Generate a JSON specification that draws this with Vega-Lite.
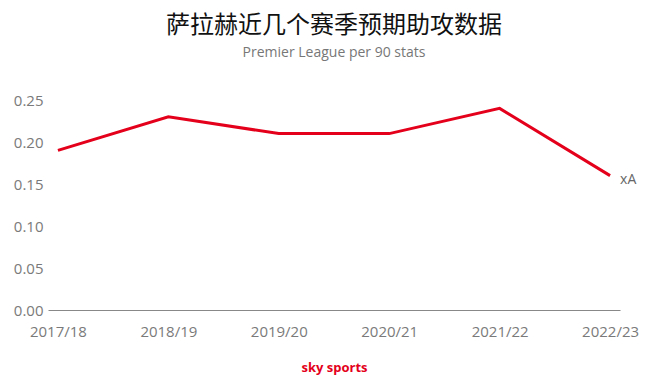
{
  "$schema": "https://vega.github.io/schema/vega-lite/v6.json",
  "autosize": {"type": "none"},
  "width": 572,
  "height": 210,
  "padding": {"left": 48, "top": 100, "right": 31, "bottom": 72},
  "background": "white",
  "title": {
    "text": "萨拉赫近几个赛季预期助攻数据",
    "subtitle": "Premier League per 90 stats",
    "font": "Noto Sans CJK SC",
    "fontSize": 24,
    "fontWeight": "normal",
    "color": "#111111",
    "subtitleFont": "Open Sans",
    "subtitleFontSize": 14,
    "subtitleColor": "#777777",
    "subtitlePadding": 8,
    "anchor": "middle",
    "offset": 33
  },
  "config": {
    "view": {"stroke": null},
    "axis": {"labelFont": "Open Sans", "labelColor": "#7a7a7a", "labelFontSize": 15}
  },
  "data": {
    "values": [
      {"season": "2017/18", "xA": 0.19},
      {"season": "2018/19", "xA": 0.23},
      {"season": "2019/20", "xA": 0.21},
      {"season": "2020/21", "xA": 0.21},
      {"season": "2021/22", "xA": 0.24},
      {"season": "2022/23", "xA": 0.16}
    ]
  },
  "encoding": {
    "x": {
      "field": "season",
      "type": "ordinal",
      "scale": {"type": "point", "padding": 0.09},
      "axis": {
        "title": "sky sports",
        "titleFont": "Open Sans",
        "titleFontWeight": "bold",
        "titleFontSize": 13,
        "titleColor": "#e4001b",
        "titlePadding": 22,
        "labelAngle": 0,
        "labelPadding": 14,
        "ticks": false,
        "domainColor": "#888888",
        "domainWidth": 1.2,
        "grid": false
      }
    },
    "y": {
      "field": "xA",
      "type": "quantitative",
      "scale": {"domain": [0, 0.25], "nice": false},
      "axis": {
        "title": null,
        "values": [0, 0.05, 0.1, 0.15, 0.2, 0.25],
        "format": ".2f",
        "domain": false,
        "ticks": false,
        "grid": false,
        "labelPadding": 5
      }
    }
  },
  "layer": [
    {"mark": {"type": "line", "color": "#e4001b", "strokeWidth": 3}},
    {
      "transform": [{"filter": "datum.season == '2022/23'"}],
      "mark": {"type": "text", "text": "xA", "align": "left", "dx": 10, "dy": 4, "font": "Open Sans", "fontSize": 14, "color": "#666666"}
    }
  ]
}
